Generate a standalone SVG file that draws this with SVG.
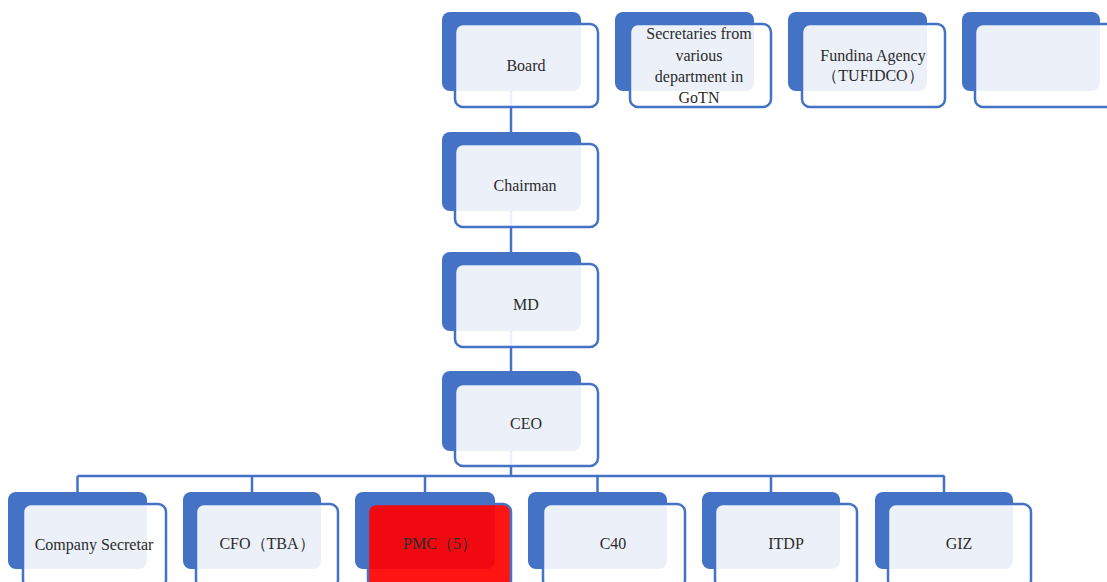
<svg xmlns="http://www.w3.org/2000/svg" width="1107" height="582" viewBox="0 0 1107 582">
<style>
.bk{fill:#4472C4;}
.fr{fill:#ffffff;fill-opacity:0.9;stroke:#4472C4;stroke-width:2.5;}
.red{fill:#FF0000;fill-opacity:0.92;stroke:#4472C4;stroke-width:2.5;}
.t{font-family:"Liberation Serif",serif;font-size:16px;fill:#2b2b2b;text-anchor:middle;dominant-baseline:central;}
.ln{stroke:#4472C4;stroke-width:2.5;fill:none;}
</style>
<rect width="1107" height="582" fill="#ffffff"/>
<g id="connectors">
<path class="ln" d="M511 51 V476"/>
<path class="ln" d="M77.5 476 H944.5"/>
<path class="ln" d="M77.5 476 V492 M252 476 V492 M425 476 V492 M597.5 476 V492 M771 476 V492 M944 476 V492"/>
</g>
<g id="board"><rect class="bk" x="442" y="12" width="139" height="79" rx="8"/><rect class="fr" x="455" y="24" width="143" height="83" rx="8"/><text class="t" x="526" y="65">Board</text></g>
<g id="secretaries"><rect class="bk" x="615" y="12" width="139" height="79" rx="8"/><rect class="fr" x="630" y="24" width="141" height="83" rx="8"/><text class="t" x="699" y="33" font-size="14.5">Secretaries from</text><text class="t" x="699" y="55" font-size="14.5">various</text><text class="t" x="699" y="76" font-size="14.5">department in</text><text class="t" x="699" y="97" font-size="14.5">GoTN</text></g>
<g id="funding"><rect class="bk" x="788" y="12" width="139" height="79" rx="8"/><rect class="fr" x="802" y="24" width="143" height="83" rx="8"/><text class="t" x="873" y="55" font-size="14.5">Fundina Agency</text><text class="t" x="873" y="75" font-size="14.5">（TUFIDCO）</text></g>
<g id="blank"><rect class="bk" x="962" y="12" width="138" height="79" rx="8"/><rect class="fr" x="975" y="24" width="143" height="83" rx="8"/></g>
<g id="chairman"><rect class="bk" x="442" y="132" width="139" height="79" rx="8"/><rect class="fr" x="455" y="144" width="143" height="83" rx="8"/><text class="t" x="525" y="185">Chairman</text></g>
<g id="md"><rect class="bk" x="442" y="252" width="139" height="79" rx="8"/><rect class="fr" x="455" y="264" width="143" height="83" rx="8"/><text class="t" x="526" y="304">MD</text></g>
<g id="ceo"><rect class="bk" x="442" y="371" width="139" height="80" rx="8"/><rect class="fr" x="455" y="384" width="143" height="82" rx="8"/><text class="t" x="526" y="423">CEO</text></g>
<g id="company-secretary"><rect class="bk" x="8" y="492" width="139" height="77" rx="8"/><rect class="fr" x="23" y="504" width="143" height="84" rx="8"/><text class="t" x="94" y="544">Company Secretar</text></g>
<g id="cfo"><rect class="bk" x="183" y="492" width="138" height="77" rx="8"/><rect class="fr" x="196" y="504" width="142" height="84" rx="8"/><text class="t" x="267" y="543">CFO（TBA）</text></g>
<g id="pmc"><rect class="bk" x="355" y="492" width="140" height="77" rx="8"/><rect class="red" x="368" y="504" width="143" height="84" rx="8"/><text class="t" x="440" y="543" fill="#1a0000">PMC（5）</text></g>
<g id="c40"><rect class="bk" x="528" y="492" width="139" height="77" rx="8"/><rect class="fr" x="543" y="504" width="142" height="84" rx="8"/><text class="t" x="613" y="543">C40</text></g>
<g id="itdp"><rect class="bk" x="702" y="492" width="138" height="77" rx="8"/><rect class="fr" x="715" y="504" width="142" height="84" rx="8"/><text class="t" x="786" y="543">ITDP</text></g>
<g id="giz"><rect class="bk" x="875" y="492" width="138" height="77" rx="8"/><rect class="fr" x="888" y="504" width="143" height="84" rx="8"/><text class="t" x="959" y="543">GIZ</text></g>
</svg>
